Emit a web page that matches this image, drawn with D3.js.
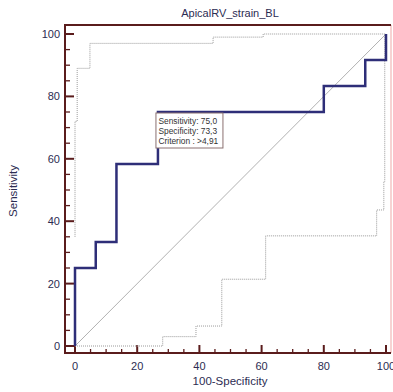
<!DOCTYPE html>
<html><head><meta charset="utf-8">
<script src="https://cdn.jsdelivr.net/npm/d3@7"></script>
<style>body{margin:0;background:#fff}svg{display:block}text{font-family:"Liberation Sans",Arial,sans-serif}</style>
</head><body><svg id="c" width="393" height="392"></svg>
<script>
const title = "ApicalRV_strain_BL";
const xLabel = "100-Specificity";
const yLabel = "Sensitivity";
const tickValues = [0, 20, 40, 60, 80, 100];
// ROC corner points (100-Specificity, Sensitivity)
const rocX = [0, 0, 6.67, 13.33, 26.67, 80, 93.33, 100];
const rocY = [0, 25, 33.33, 58.33, 75, 83.33, 91.67, 100];
// upper confidence bound
const upX = [0, 0, 0.7, 4.8, 44.4, 60.5, 100];
const upY = [35, 72, 89, 97, 99, 100, 100];
// lower confidence bound
const loX = [0, 28.2, 38.9, 47.2, 61.3, 97, 99.3, 99.6];
const loY = [0, 3, 6.4, 21.4, 35.3, 43.6, 52.7, 100];
const criterion = {x: 26.67, y: 75, lines: ["Sensitivity: 75,0", "Specificity: 73,3", "Criterion : >4,91"]};

const svg = d3.select("#c");
const x = d3.scaleLinear().domain([0, 100]).range([75, 386]);
const y = d3.scaleLinear().domain([0, 100]).range([346, 34]);
const frameL = 65, frameT = 25, frameB = 353, frameR = 391;
const axisCol = "#5a1c1c", labCol = "#2c2c52";

// frame
svg.append("line").attr("x1", frameR).attr("x2", frameR).attr("y1", frameT).attr("y2", frameB).attr("stroke", "#f4c4c4").attr("stroke-width", 1.5);
svg.append("path").attr("d", `M${frameR},${frameT}H${frameL}V${frameB}H${frameR}`).attr("fill", "none").attr("stroke", axisCol).attr("stroke-width", 2);

// ticks
const minor = d3.range(0, 101, 5);
const g = svg.append("g");
minor.forEach(v => {
  const major = v % 20 === 0;
  g.append("line").attr("x1", frameL).attr("x2", frameL + (major ? 9 : 5)).attr("y1", y(v)).attr("y2", y(v))
    .attr("stroke", axisCol).attr("stroke-width", major ? 2 : 1.3);
  g.append("line").attr("y1", frameB).attr("y2", frameB - (major ? 8 : 4)).attr("x1", x(v)).attr("x2", x(v))
    .attr("stroke", axisCol).attr("stroke-width", major ? 2 : 1.3);
});
tickValues.forEach(v => {
  svg.append("text").attr("x", 60).attr("y", y(v) + 4).attr("text-anchor", "end").attr("font-size", 11).attr("fill", labCol).text(v);
  svg.append("text").attr("x", x(v)).attr("y", 370).attr("text-anchor", "middle").attr("font-size", 11).attr("fill", labCol).text(v);
});

// labels
svg.append("text").attr("x", 230).attr("y", 17).attr("text-anchor", "middle").attr("font-size", 11).attr("fill", labCol).text(title);
svg.append("text").attr("x", 230).attr("y", 385).attr("text-anchor", "middle").attr("font-size", 11.5).attr("fill", labCol).text(xLabel);
svg.append("text").attr("transform", "translate(17,191) rotate(-90)").attr("text-anchor", "middle").attr("font-size", 11.5).attr("fill", labCol).text(yLabel);

// diagonal
svg.append("line").attr("x1", x(0)).attr("y1", y(0)).attr("x2", x(100)).attr("y2", y(100)).attr("stroke", "#a8a8a8").attr("stroke-width", 0.9);

const line = d3.line().x(d => x(d[0])).y(d => y(d[1])).curve(d3.curveStepAfter);
const zip = (a, b) => a.map((v, i) => [v, b[i]]);
[[upX, upY], [loX, loY]].forEach(([a, b]) => {
  svg.append("path").attr("d", line(zip(a, b))).attr("fill", "none").attr("stroke", "#9a9a9a").attr("stroke-width", 1).attr("stroke-dasharray", "1,1");
});
svg.append("path").attr("d", line(zip(rocX, rocY))).attr("fill", "none").attr("stroke", "#2e2e78").attr("stroke-width", 2.5);

// annotation box
const bx = x(criterion.x) - 2, by = y(criterion.y) + 1;
svg.append("rect").attr("x", bx).attr("y", by).attr("width", 67).attr("height", 35).attr("fill", "#fff").attr("stroke", "#8a7070").attr("stroke-width", 1);
criterion.lines.forEach((t, i) => {
  svg.append("text").attr("x", bx + 2.5).attr("y", by + 10.5 + i * 10).attr("font-size", 8.4).attr("fill", "#333").text(t);
});
</script></body></html>
